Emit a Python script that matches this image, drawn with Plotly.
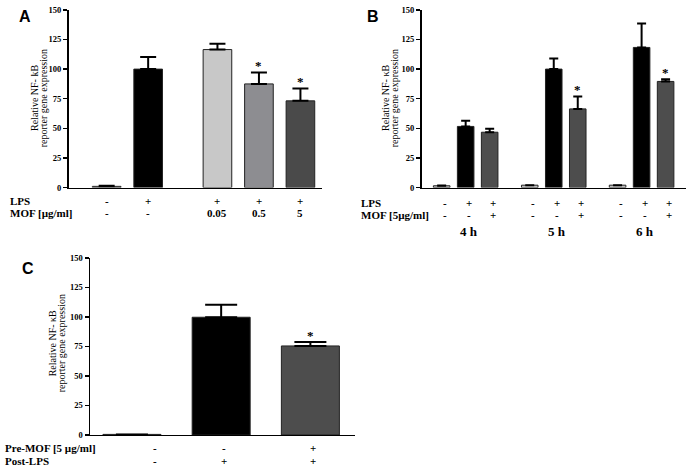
import plotly.graph_objects as go

# ---------------- data ----------------
A_pos = [0, 1, 2.67, 3.67, 4.67]
A_vals = [1.0, 100.0, 116.5, 87.5, 73.2]
A_err = [0.5, 10.2, 5.0, 9.7, 10.5]
A_colors = ["#cccccc", "#000000", "#c8c8c8", "#8d8d91", "#4a4a4a"]
A_LPS = ["-", "+", "+", "+", "+"]
A_MOF = ["-", "-", "0.05", "0.5", "5"]
A_sig = [False, False, False, True, True]

B_pos = [0, 1, 2, 3.67, 4.67, 5.67, 7.33, 8.33, 9.33]
B_vals = [1.5, 51.6, 46.7, 2.0, 100.0, 66.4, 2.0, 118.3, 89.6]
B_err = [0.3, 4.8, 3.0, 0.0, 9.0, 10.5, 0.0, 20.2, 1.9]
B_colors = ["#bdbdbd", "#000000", "#4d4d4d"] * 3
B_LPS = ["-", "+", "+"] * 3
B_MOF = ["-", "-", "+"] * 3
B_sig = [False, False, False, False, False, True, False, False, True]
B_times = ["4 h", "5 h", "6 h"]

C_pos = [0, 1, 2]
C_vals = [0.5, 99.7, 75.4]
C_err = [0.0, 10.5, 3.3]
C_colors = ["#cccccc", "#000000", "#4d4d4d"]
C_PRE = ["-", "-", "+"]
C_POST = ["-", "+", "+"]
C_sig = [False, False, True]

W, H = 689, 472
SERIF = "Liberation Serif"
SANS = "Liberation Sans"


def px(xp):
    return xp / W


def py(yp):
    return 1 - yp / H


fig = go.Figure()


def add_bars(pos, vals, err, colors, width, capw, xa, ya):
    fig.add_trace(go.Bar(
        x=pos, y=vals, width=width,
        marker=dict(color=colors, line=dict(color="#222222", width=1)),
        error_y=dict(type="data", array=err, arrayminus=[0] * len(err),
                     symmetric=False, color="#000000", thickness=2, width=capw),
        xaxis=xa, yaxis=ya, showlegend=False, hoverinfo="skip",
    ))


add_bars(A_pos, A_vals, A_err, A_colors, 0.69, 8, "x", "y")
add_bars(B_pos, B_vals, B_err, B_colors, 0.69, 4.5, "x2", "y2")
add_bars(C_pos, C_vals, C_err, C_colors, 0.65, 16, "x3", "y3")

yax = dict(range=[0, 150], tickvals=[0, 25, 50, 75, 100, 125, 150],
           showline=True, linecolor="black", linewidth=1.5,
           ticks="outside", ticklen=4, tickwidth=1.5, tickcolor="black",
           tickfont=dict(family=SERIF, size=8.5, color="black", weight="bold"),
           showgrid=False, zeroline=False, fixedrange=True)
xax = dict(showline=True, linecolor="black", linewidth=1.5, ticks="",
           showticklabels=False, showgrid=False, zeroline=False, fixedrange=True)

fig.update_layout(
    width=W, height=H, margin=dict(l=0, r=0, t=0, b=0),
    paper_bgcolor="white", plot_bgcolor="white", bargap=0,
    xaxis=dict(xax, domain=[px(68.5), px(322)], range=[-0.92, 5.19], anchor="y"),
    yaxis=dict(yax, domain=[py(186.5), py(5)], anchor="x"),
    xaxis2=dict(xax, domain=[px(421.5), px(686)], range=[-0.84, 10.18], anchor="y2"),
    yaxis2=dict(yax, domain=[py(186.5), py(5)], anchor="x2"),
    xaxis3=dict(xax, domain=[px(90), px(355)], range=[-0.47, 2.5], anchor="y3"),
    yaxis3=dict(yax, domain=[py(439.3), py(258.3)], anchor="x3"),
)

ann = []


def txt(x, y, text, xref="paper", yref="paper", size=11, bold=True, family=SERIF,
        xanchor="center", yanchor="middle", angle=0, xshift=0, yshift=0):
    ann.append(dict(x=x, y=y, xref=xref, yref=yref,
                    text=f"<b>{text}</b>" if bold else text,
                    showarrow=False, xanchor=xanchor, yanchor=yanchor,
                    textangle=angle, xshift=xshift, yshift=yshift,
                    font=dict(family=family, size=size, color="black")))


# panel letters
txt(px(25), py(12), "A", family=SANS, size=16)
txt(px(373), py(12), "B", family=SANS, size=16)
txt(px(28), py(269), "C", family=SANS, size=16)

# y-axis titles
for (x1, x2, yc, k) in [(35, 44.3, 95, "kB"), (386, 395.3, 95, "κB"), (52.7, 61.7, 346, "κB")]:
    txt(px(x1), py(yc), f"Relative NF- {k}", size=10, bold=False, angle=-90)
    txt(px(x2), py(yc), "reporter gene expression", size=10, bold=False, angle=-90)

# panel A condition rows
txt(px(8), py(200), "LPS", xanchor="left")
txt(px(8), py(212.5), "MOF [µg/ml]", xanchor="left")
for p, a, b in zip(A_pos, A_LPS, A_MOF):
    txt(p, py(200), a, xref="x")
    txt(p, py(212.5), b, xref="x")
for p, v, e, s in zip(A_pos, A_vals, A_err, A_sig):
    if s:
        txt(p, v + e, "*", xref="x", yref="y", size=13, yanchor="bottom", yshift=-3)

# panel B condition rows
txt(px(359), py(202.7), "LPS", xanchor="left")
txt(px(359), py(215), "MOF [5µg/ml]", xanchor="left")
for p, a, b in zip(B_pos, B_LPS, B_MOF):
    txt(p, py(202.7), a, xref="x2", xshift=3)
    txt(p, py(215), b, xref="x2", xshift=3)
for i, t in enumerate(B_times):
    txt(B_pos[3 * i + 1], py(231.7), t, xref="x2", size=13, xshift=3)
for p, v, e, s in zip(B_pos, B_vals, B_err, B_sig):
    if s:
        txt(p, v + e, "*", xref="x2", yref="y2", size=13, yanchor="bottom", yshift=-3)

# panel C condition rows
txt(px(3), py(452.7), "Pre-MOF [5 µg/ml]", xanchor="left")
txt(px(3), py(465.7), "Post-LPS", xanchor="left")
C_shift = [23, 3, 3]
for p, a, b, sh in zip(C_pos, C_PRE, C_POST, C_shift):
    txt(p, py(452.7), a, xref="x3", xshift=sh)
    txt(p, py(465.7), b, xref="x3", xshift=sh)
for p, v, e, s in zip(C_pos, C_vals, C_err, C_sig):
    if s:
        txt(p, v + e, "*", xref="x3", yref="y3", size=13, yanchor="bottom", yshift=-3)

fig.update_layout(annotations=ann)
fig.write_html(
    "out.html",
    config={"displayModeBar": False, "staticPlot": True},
    post_script="document.body.style.margin='0';document.body.style.overflow='hidden';",
)
